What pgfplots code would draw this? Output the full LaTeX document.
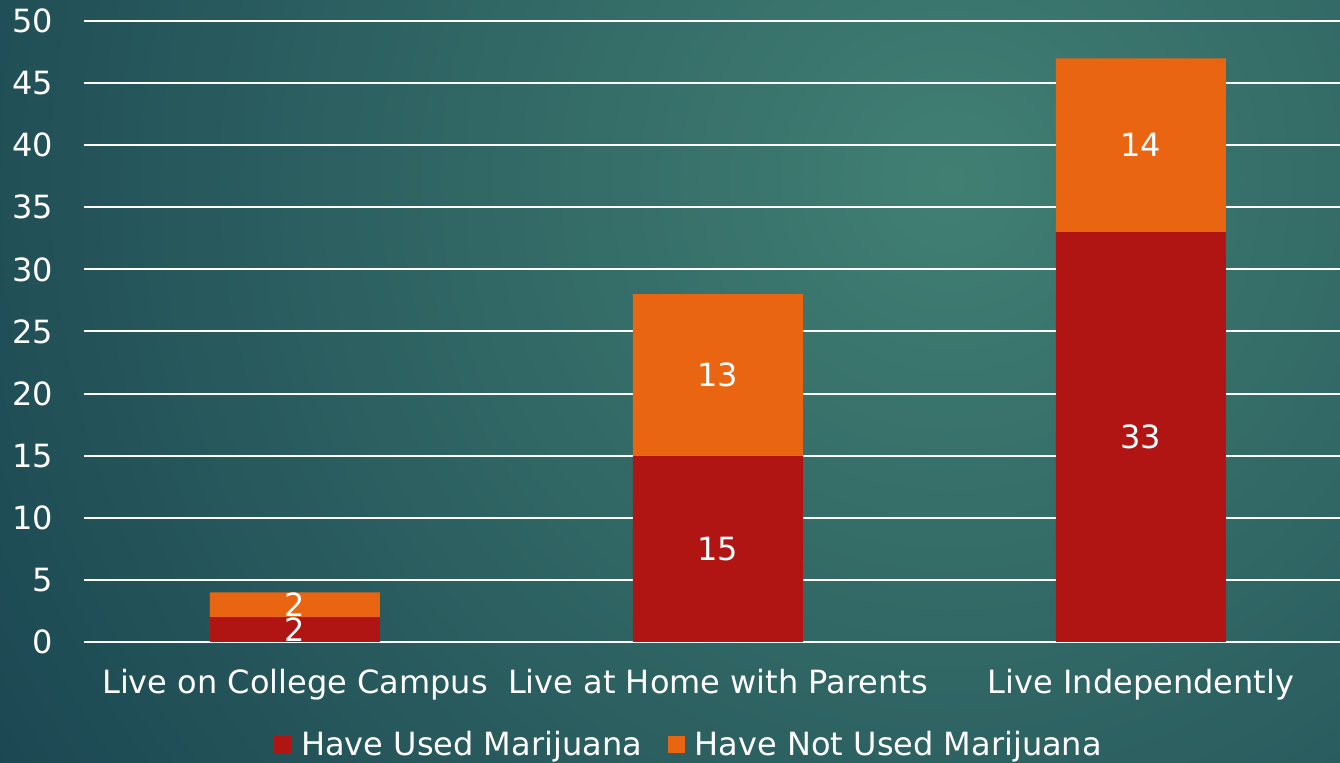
\documentclass[border=0pt]{standalone}
\usepackage{pgfplots}
\pgfplotsset{compat=1.18}
\usepackage{fontspec}
\setmainfont{DejaVu Sans}
\definecolor{bgin}{HTML}{417F73}
\definecolor{bgout}{HTML}{1B4752}
\definecolor{usedred}{HTML}{B01513}
\definecolor{notorange}{HTML}{EA6512}
\newcommand{\chartfont}{\fontsize{16}{19}\selectfont}
\pgfplotsset{
  common/.style={
    at={(42pt,60.5pt)}, anchor=south west,
    scale only axis, width=628pt, height=310.5pt,
    xmin=-0.4988, xmax=2.4705, ymin=0, ymax=50,
  }
}
\begin{document}
\begin{tikzpicture}
\begin{scope}
\clip (0pt,0pt) rectangle (670pt,381.5pt);
\fill[bgout] (0pt,0pt) rectangle (670pt,381.5pt);
\shade[inner color=bgin, outer color=bgout] (475pt,291.5pt) circle (560pt);
\end{scope}
\begin{axis}[
  common,
  ybar stacked, bar width=85pt,
  ytick={0,5,...,50}, xtick={0,1,2},
  xticklabels={Live on College Campus, Live at Home with Parents, Live Independently},
  axis line style={draw=none}, major tick length=0pt,
  ymajorgrids, grid style={white, line width=1pt},
  tick label style={white, font=\chartfont},
  /pgf/number format/assume math mode=true,
  xticklabel style={yshift=-10pt},
  yticklabel style={xshift=-12pt},
  legend style={draw=none, fill=none, text=white, font=\chartfont,
    legend columns=2, at={(0.4825,0)}, anchor=center, yshift=-51.5pt,
    /tikz/every odd column/.append style={column sep=3pt},
    /tikz/every even column/.append style={column sep=11pt}},
  legend image code/.code={\fill[#1] (0pt,-4.25pt) rectangle (8.5pt,4.25pt);},
]
\addplot[fill=usedred, draw=none] coordinates {(0,2) (1,15) (2,33)};
\addlegendentry{Have Used Marijuana}
\addplot[fill=notorange, draw=none] coordinates {(0,2) (1,13) (2,14)};
\addlegendentry{Have Not Used Marijuana}
\end{axis}
\begin{axis}[
  common, hide axis, clip=false,
  nodes near coords, point meta=explicit symbolic,
  every node near coord/.style={anchor=center, text=white, font=\chartfont},
]
\addplot[only marks, mark=none]
  coordinates {(0,1)[2] (1,7.5)[15] (2,16.5)[33] (0,3)[2] (1,21.5)[13] (2,40)[14]};
\end{axis}
\pgfresetboundingbox
\path[use as bounding box] (0pt,0pt) rectangle (670pt,381.5pt);
\end{tikzpicture}
\end{document}
